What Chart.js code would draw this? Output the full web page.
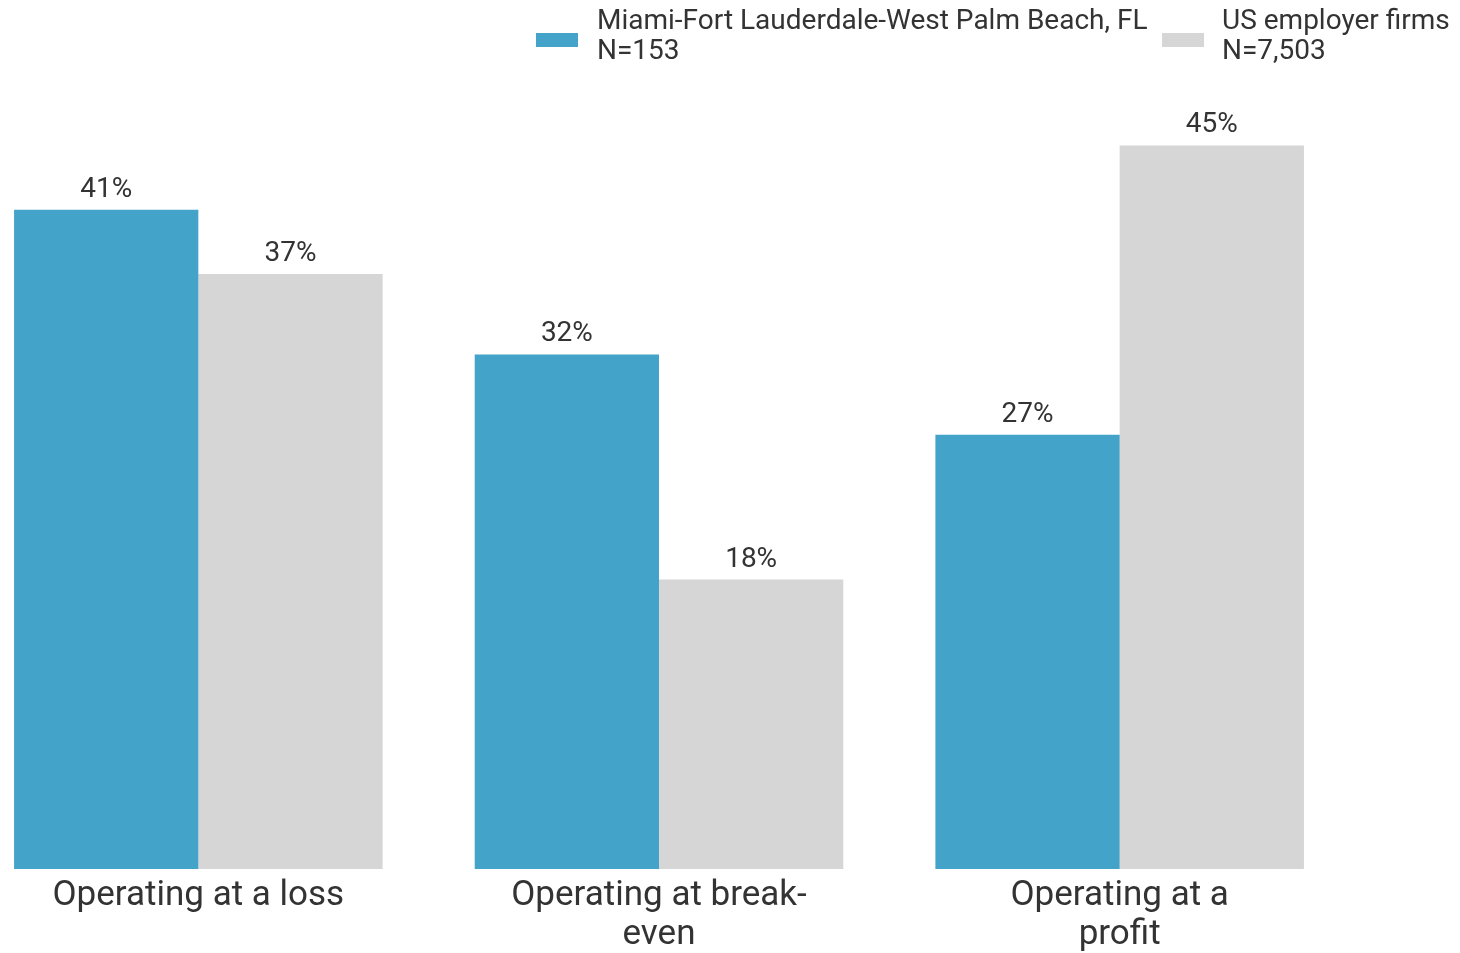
<!DOCTYPE html>
<html>
<head>
<meta charset="utf-8">
<script src="https://cdn.jsdelivr.net/npm/chart.js@4.4.0/dist/chart.umd.min.js"></script>
<style>
  html, body { margin: 0; padding: 0; background: #fff; overflow: hidden; }
  body { width: 1460px; height: 953px; position: relative; font-family: Roboto, sans-serif; }
  #wrap { position: absolute; left: -32px; top: 0; width: 1492px; height: 953px; }
  .legend { position: absolute; top: 5px; color: #333; font-size: 28px; line-height: 30px; }
  .legend .sw { position: absolute; top: 28px; width: 42px; height: 14px; }
  .legend .txt { position: absolute; white-space: nowrap; }
</style>
</head>
<body>
<div id="wrap"><canvas id="chart"></canvas></div>
<div class="legend">
  <div class="sw" style="left:536px;background:#43a3c8"></div>
  <div class="txt" style="left:597px">Miami-Fort Lauderdale-West Palm Beach, FL<br>N=153</div>
  <div class="sw" style="left:1162px;background:#d6d6d6"></div>
  <div class="txt" style="left:1222px">US employer firms<br>N=7,503</div>
</div>
<script>
const categories = [['Operating at a loss'], ['Operating at break-', 'even'], ['Operating at a', 'profit']];
const seriesNames = ['Miami-Fort Lauderdale-West Palm Beach, FL', 'US employer firms'];
const miamiValues = [41, 32, 27];
const usValues = [37, 18, 45];

// draws the "41%" labels above each bar
const valueLabels = {
    id: 'valueLabels',
    afterDatasetsDraw(chart) {
        const ctx = chart.ctx;
        ctx.save();
        ctx.font = '28px Roboto, sans-serif';
        ctx.fillStyle = '#333';
        ctx.textAlign = 'center';
        ctx.textBaseline = 'middle';
        chart.data.datasets.forEach((ds, i) => {
            chart.getDatasetMeta(i).data.forEach((bar, j) => {
                ctx.fillText(ds.data[j] + '%', bar.x, bar.y - 20);
            });
        });
        ctx.restore();
    }
};

new Chart(document.getElementById('chart'), {
    type: 'bar',
    data: {
        labels: categories,
        datasets: [
            { label: seriesNames[0], data: miamiValues, backgroundColor: '#43a3c8' },
            { label: seriesNames[1], data: usValues, backgroundColor: '#d6d6d6' }
        ]
    },
    options: {
        responsive: true,
        maintainAspectRatio: false,
        animation: false,
        categoryPercentage: 0.8,
        barPercentage: 1.0,
        layout: { padding: { left: 0, right: 110, top: 65, bottom: 0 } },
        scales: {
            x: {
                grid: { display: false },
                border: { display: false },
                ticks: { color: '#333', font: { family: 'Roboto', size: 35, lineHeight: 1.1 }, padding: 0, maxRotation: 0, autoSkip: false },
                afterFit(scale) { scale.height = 84; }
            },
            y: { display: false, min: 0, max: 50 }
        },
        plugins: {
            legend: { display: false },
            tooltip: { enabled: false }
        }
    },
    plugins: [valueLabels]
});
</script>
</body>
</html>
